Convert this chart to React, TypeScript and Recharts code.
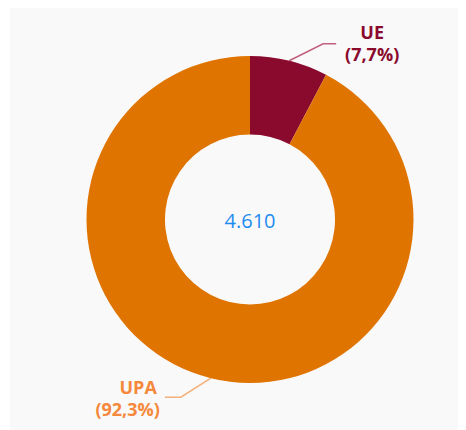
import React from "react";
import { PieChart, Pie, Cell } from "recharts";

const categories = ["UE", "UPA"];
const values = [355, 4255];
const percentLabels = ["(7,7%)", "(92,3%)"];
const sliceColors = ["#8a0a2d", "#e07400"];
const labelColors = ["#8a0a2d", "#f5883a"];
const lineColors = ["#c0607c", "#f4b07a"];
const totalLabel = "4.610";

const data = categories.map((name, i) => ({ name, value: values[i], pct: percentLabels[i] }));

const RADIAN = Math.PI / 180;

const renderLabel = (props: any) => {
  const { cx, cy, midAngle, outerRadius, index } = props;
  const cos = Math.cos(-midAngle * RADIAN);
  const sin = Math.sin(-midAngle * RADIAN);
  const sx = cx + outerRadius * cos;
  const sy = cy + outerRadius * sin;
  const right = cos >= 0;
  const down = sin >= 0;
  const ex = sx + (right ? 34 : -30);
  const ey = sy + (down ? 19 : -17);
  const tx = ex + (right ? 13 : -16);
  const color = labelColors[index];
  const font = { fontFamily: "'Open Sans', sans-serif", fontWeight: 700, fontSize: 18 };
  return (
    <g>
      <path d={`M${sx},${sy}L${ex},${ey}L${tx},${ey}`} stroke={lineColors[index]} strokeWidth={1.5} fill="none" />
      {right ? (
        <>
          <text x={tx + 36} y={ey - 5} textAnchor="middle" fill={color} style={font}>{categories[index]}</text>
          <text x={tx + 36} y={ey + 17} textAnchor="middle" fill={color} style={font}>{percentLabels[index]}</text>
        </>
      ) : (
        <>
          <text x={tx - 8} y={ey - 3} textAnchor="end" fill={color} style={font}>{categories[index]}</text>
          <text x={tx - 5} y={ey + 19} textAnchor="end" fill={color} style={font}>{percentLabels[index]}</text>
        </>
      )}
    </g>
  );
};

export default function App() {
  return (
    <div style={{ position: "relative", margin: "-8px 0 0 -8px", width: 466, height: 430, background: "#ffffff" }}>
      <div style={{ position: "absolute", left: 10, top: 8, width: 456, height: 422, background: "#f9f9f9" }} />
      <div style={{ position: "absolute", left: 0, top: 0 }}>
        <PieChart width={466} height={430} margin={{ top: 0, right: 0, bottom: 0, left: 0 }}>
          <Pie
            data={data}
            dataKey="value"
            nameKey="name"
            cx={250}
            cy={219.5}
            innerRadius={85}
            outerRadius={163.5}
            startAngle={90}
            endAngle={-270}
            stroke="none"
            label={renderLabel}
            labelLine={false}
            isAnimationActive={false}
          >
            {data.map((d, i) => (
              <Cell key={d.name} fill={sliceColors[i]} />
            ))}
          </Pie>
          <text
            x={250}
            y={227.5}
            textAnchor="middle"
            fill="#1f8cf0"
            style={{ fontFamily: "'Open Sans', sans-serif", fontSize: 20 }}
          >
            {totalLabel}
          </text>
        </PieChart>
      </div>
    </div>
  );
}
